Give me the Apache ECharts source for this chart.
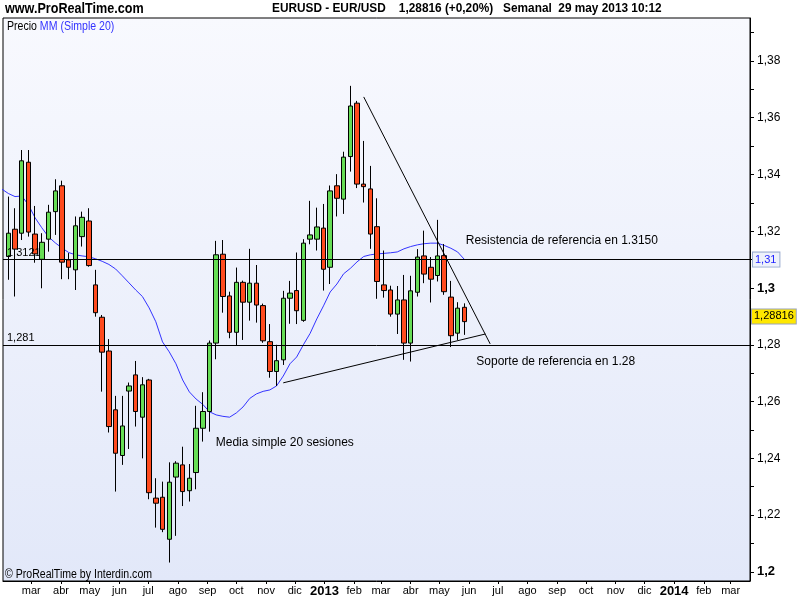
<!DOCTYPE html>
<html><head><meta charset="utf-8">
<script src="https://cdn.jsdelivr.net/npm/echarts@6/dist/echarts.min.js"></script>
<style>html,body{margin:0;padding:0;background:#fff}#c{width:800px;height:600px}</style>
</head><body><div id="c"></div>
<script>
// ---- data (weekly EUR/USD candles, week starting Monday) ----
const firstWeek = '2012-02-06';
const open  = [1.3111,1.3207,1.3193,1.3443,1.3190,1.3101,1.3172,1.3269,1.3360,1.3099,1.3064,1.3181,1.3236,1.3011,1.2897,1.2778,1.2571,1.2410,1.2637,1.2694,1.2545,1.2676,1.2260,1.2263,1.2115,1.2334,1.2377,1.2286,1.2350,1.2506,1.2565,1.2806,1.3119,1.2972,1.2844,1.3020,1.2950,1.3017,1.2938,1.2811,1.2706,1.2747,1.2964,1.2991,1.2886,1.3172,1.3172,1.3211,1.3073,1.3360,1.3313,1.3463,1.3651,1.3366,1.3349,1.3216,1.3011,1.2993,1.2908,1.2958,1.2806,1.2985,1.3113,1.3073,1.3044,1.3114,1.2968,1.2841,1.2932];
const close = [1.3193,1.3137,1.3448,1.3197,1.3120,1.3161,1.3267,1.3342,1.3091,1.3073,1.3219,1.3249,1.3079,1.2913,1.2774,1.2512,1.2418,1.2514,1.2655,1.2565,1.2659,1.2279,1.2242,1.2150,1.2316,1.2383,1.2283,1.2330,1.2506,1.2565,1.2806,1.3117,1.2970,1.2844,1.3020,1.2950,1.3017,1.2940,1.2814,1.2706,1.2744,1.2964,1.2982,1.2920,1.3158,1.3187,1.3215,1.3066,1.3342,1.3316,1.3461,1.3641,1.3366,1.3357,1.3190,1.3023,1.2991,1.2908,1.2958,1.2806,1.2990,1.3109,1.3049,1.3031,1.3113,1.2987,1.2832,1.2929,1.28816];
const low   = [1.3029,1.2970,1.3169,1.3181,1.3089,1.2999,1.3128,1.3187,1.3031,1.3031,1.2993,1.3146,1.3075,1.2899,1.2635,1.2491,1.2283,1.2377,1.2433,1.2512,1.2400,1.2256,1.2156,1.2140,1.2033,1.2127,1.2232,1.2248,1.2291,1.2459,1.2494,1.2749,1.2913,1.2823,1.2796,1.2817,1.2885,1.2878,1.2807,1.2684,1.2655,1.2729,1.2874,1.2873,1.2881,1.3154,1.3132,1.2991,1.3014,1.3252,1.3261,1.3410,1.3352,1.3301,1.3138,1.2962,1.2966,1.2899,1.2838,1.2747,1.2741,1.2970,1.3017,1.2949,1.3023,1.2976,1.2792,1.2817,1.2835];
const high  = [1.3322,1.3281,1.3486,1.3486,1.3289,1.3193,1.3293,1.3383,1.3378,1.3123,1.3252,1.3269,1.3281,1.3064,1.2905,1.2820,1.2620,1.2620,1.2667,1.2743,1.2686,1.2680,1.2330,1.2318,1.2386,1.2390,1.2441,1.2380,1.2585,1.2633,1.2815,1.3166,1.3169,1.2987,1.3072,1.3026,1.3138,1.3081,1.2945,1.2873,1.2800,1.2990,1.3025,1.3125,1.3172,1.3307,1.3283,1.3296,1.3361,1.3401,1.3480,1.3712,1.3659,1.3518,1.3430,1.3316,1.3132,1.3008,1.3007,1.3046,1.3043,1.3137,1.3202,1.3109,1.3240,1.3155,1.3025,1.2950,1.2946];
// 20-period simple moving average as drawn (starts one week earlier)
const maFirstWeek = '2012-01-30';
const ma20 = [1.3349,1.3333,1.3322,1.3324,1.3293,1.3247,1.3212,1.3180,1.3159,1.3141,1.3125,1.3117,1.3113,1.3110,1.3103,1.3094,1.3083,1.3067,1.3043,1.3018,1.2993,1.2970,1.2930,1.2881,1.2810,1.2775,1.2733,1.2676,1.2634,1.2609,1.2590,1.2564,1.2553,1.2548,1.2545,1.2560,1.2581,1.2611,1.2627,1.2636,1.2641,1.2655,1.2690,1.2733,1.2757,1.2800,1.2840,1.2891,1.2937,1.2986,1.3014,1.3050,1.3069,1.3092,1.3111,1.3117,1.3120,1.3122,1.3124,1.3127,1.3138,1.3146,1.3152,1.3156,1.3158,1.3158,1.3150,1.3140,1.3127,1.3101];
// reference levels and trend lines
const levelValues = [1.3121, 1.281];
const levelLabels = ['1,3121', '1,281'];
const resistLine = [['2013-02-11', 1.3673], ['2013-06-23', 1.2803]];
const supportLine = [['2012-11-19', 1.2666], ['2013-06-18', 1.2838]];
const lastPrice = 1.28816;
// annotations
const noteTexts  = ['Resistencia de referencia en 1.3150', 'Soporte de referencia en 1.28', 'Media simple 20 sesiones'];
const noteDates  = ['2013-05-28', '2013-06-08', '2012-09-09'];
const notePrices = [1.3166, 1.2740, 1.2454];
// axes
const xStart = '2012-01-31 11:00';
const xEnd   = '2014-03-21 05:00';
const monthTicks = ['2012-03-01','2012-04-01','2012-05-01','2012-06-01','2012-07-01','2012-08-01','2012-09-01','2012-10-01','2012-11-01','2012-12-01','2013-01-01','2013-02-01','2013-03-01','2013-04-01','2013-05-01','2013-06-01','2013-07-01','2013-08-01','2013-09-01','2013-10-01','2013-11-01','2013-12-01','2014-01-01','2014-02-01','2014-03-01'];
const monthNames = ['ene','feb','mar','abr','may','jun','jul','ago','sep','oct','nov','dic'];
const yLabelValues = [1.20,1.22,1.24,1.26,1.28,1.30,1.32,1.34,1.36,1.38];
const yBoldValues = [1.20,1.30];
const yTickValues = [1.20,1.21,1.22,1.23,1.24,1.25,1.26,1.27,1.28,1.29,1.30,1.31,1.32,1.33,1.34,1.35,1.36,1.37,1.38,1.39];
const yMin = 1.1968, yMax = 1.3951;

// ---- helpers ----
function t(s) {
  const m = s.match(/(\d+)-(\d+)-(\d+)(?:\s+(\d+):(\d+))?/);
  return new Date(+m[1], +m[2] - 1, +m[3], m[4] ? +m[4] : 0, m[5] ? +m[5] : 0).getTime();
}
function week(start, i) {
  const d = new Date(t(start));
  return new Date(d.getFullYear(), d.getMonth(), d.getDate() + 7 * i).getTime();
}
const candleData = open.map((o, i) => [week(firstWeek, i), o, close[i], low[i], high[i]]);
const maData = ma20.map((v, i) => [week(maFirstWeek, i), v]);
const fmtY = v => String(+v.toFixed(5)).replace('.', ',');
const monthTickTimes = monthTicks.map(t);

const FR = "'Liberation Sans',Arial,sans-serif";

const chart = echarts.init(document.getElementById('c'), null, {renderer: 'canvas'});
const option = {
  animation: false,
  backgroundColor: '#ffffff',
  graphic: [
    {type: 'text', x: 5, y: 2, scaleX: 0.9, z: 100,
     style: {text: 'www.ProRealTime.com', fill: '#000', fontSize: 14, fontWeight: 'bold', fontFamily: FR}},
    {type: 'text', x: 272, y: 2, scaleX: 0.91, z: 100,
     style: {text: 'EURUSD - EUR/USD    1,28816 (+0,20%)   Semanal  29 may 2013 10:12', fill: '#000', fontSize: 13, fontWeight: 'bold', fontFamily: FR}},
    {type: 'text', x: 7, y: 21, scaleX: 0.88, z: 100,
     style: {text: '{a|Precio} {b|MM (Simple 20)}', fontSize: 12, fontFamily: FR,
       rich: {a: {fill: '#000', fontSize: 12, fontFamily: FR}, b: {fill: '#3333ff', fontSize: 12, fontFamily: FR}}}},
    {type: 'text', x: 5, y: 569, scaleX: 0.88, z: 100,
     style: {text: '© ProRealTime by Interdin.com', fill: '#000', fontSize: 12, fontFamily: FR}}
  ],
  grid: {
    left: 3, right: 50, top: 18, bottom: 19, show: true, borderColor: '#000', borderWidth: 1,
    backgroundColor: new echarts.graphic.LinearGradient(0, 0, 0, 1, [
      {offset: 0, color: '#f8f9fe'}, {offset: 1, color: '#e2e8f9'}
    ])
  },
  xAxis: {
    type: 'value', min: t(xStart), max: t(xEnd), scale: true,
    axisLine: {show: true, lineStyle: {color: '#000'}},
    axisTick: {show: true, customValues: monthTickTimes, length: 3, lineStyle: {color: '#000'}},
    axisLabel: {
      customValues: monthTickTimes, margin: 4, color: '#000', fontSize: 11, fontFamily: FR,
      formatter: v => { const d = new Date(v); return d.getMonth() === 0 ? '{y|' + d.getFullYear() + '}' : monthNames[d.getMonth()]; },
      rich: {y: {fontWeight: 'bold', fontSize: 13, fontFamily: FR, color: '#000'}}
    },
    splitLine: {show: false}
  },
  yAxis: {
    type: 'value', position: 'right', min: yMin, max: yMax, scale: true,
    axisLine: {show: true, lineStyle: {color: '#000'}},
    axisTick: {show: true, customValues: yTickValues, length: 4, lineStyle: {color: '#000'}},
    axisLabel: {
      customValues: yLabelValues, margin: 7, color: '#000', fontSize: 12, fontFamily: FR,
      formatter: v => yBoldValues.some(b => Math.abs(b - v) < 1e-9) ? '{b|' + fmtY(v) + '}' : fmtY(v),
      rich: {b: {fontWeight: 'bold', fontSize: 13, fontFamily: FR, color: '#000'}}
    },
    splitLine: {show: false}
  },
  series: [
    {
      type: 'candlestick', data: candleData, barWidth: 5, clip: false,
      itemStyle: {color: '#66dd55', color0: '#ff4b1e', borderColor: '#000', borderColor0: '#000', borderWidth: 1},
      markLine: {
        silent: true, symbol: ['none', 'none'], animation: false,
        lineStyle: {color: '#000', width: 1, type: 'solid'},
        label: {show: false},
        data: [
          ...levelValues.map((v, i) => ({yAxis: v, label: {show: true, position: 'insideStartTop', distance: [4, 1], formatter: levelLabels[i], color: '#000', fontSize: 11, fontFamily: FR}})),
          [{coord: [t(resistLine[0][0]), resistLine[0][1]]}, {coord: [t(resistLine[1][0]), resistLine[1][1]]}],
          [{coord: [t(supportLine[0][0]), supportLine[0][1]]}, {coord: [t(supportLine[1][0]), supportLine[1][1]]}],
          {yAxis: lastPrice, lineStyle: {width: 0, color: 'rgba(0,0,0,0)'},
           label: {show: true, position: 'end', distance: 2, formatter: fmtY(lastPrice), color: '#000', fontSize: 11, fontFamily: FR,
                   backgroundColor: '#ffe800', borderColor: '#9aa4b8', borderWidth: 1, padding: [2, 2, 1, 2]}}
        ]
      },
      markPoint: {
        silent: true, symbol: 'circle', symbolSize: 1, itemStyle: {color: 'rgba(0,0,0,0)'},
        label: {show: true, position: 'right', distance: 0, color: '#000', fontSize: 12, fontFamily: FR, formatter: p => p.name},
        data: noteTexts.map((s, i) => ({name: s, coord: [t(noteDates[i]), notePrices[i]]}))
      }
    },
    {
      type: 'line', data: maData, showSymbol: false, symbol: 'none', clip: true,
      lineStyle: {color: '#3333ff', width: 1}, z: 1,
      markLine: {
        silent: true, symbol: ['none', 'none'], animation: false,
        data: [{yAxis: ma20[ma20.length - 1], lineStyle: {width: 0, color: 'rgba(0,0,0,0)'},
          label: {show: true, position: 'end', distance: 3, formatter: fmtY(+ma20[ma20.length - 1].toFixed(2)), color: '#2222ff', fontSize: 11, fontFamily: FR,
                  backgroundColor: '#eef2fb', borderColor: '#9aacd0', borderWidth: 1, padding: [2, 3, 1, 2]}}]
      }
    }
  ]
};
chart.setOption(option);
</script></body></html>
